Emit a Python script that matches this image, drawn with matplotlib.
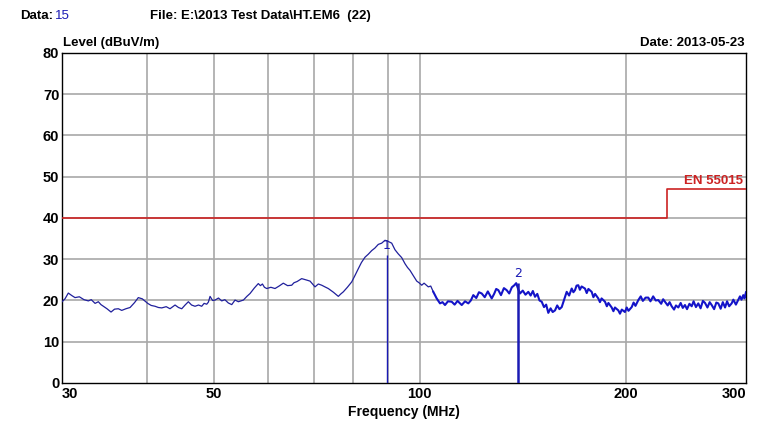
"""
EMI radiated emission scan, 30-300 MHz, with EN 55015 limit line and two markers.
"""
import matplotlib
matplotlib.use("Agg")
import matplotlib.pyplot as plt
from matplotlib.ticker import FixedLocator, NullLocator, NullFormatter

freq_mhz = [
    30.0, 30.3, 30.64, 31.0, 31.34, 31.8, 32.3, 32.78, 33.1, 33.53,
    33.9, 34.2, 34.48, 34.9, 35.38, 35.8, 36.26, 36.68, 37.2, 37.72,
    38.3, 38.78, 39.31, 39.7, 40.03, 40.5, 41.03, 41.5, 41.97, 42.6,
    43.15, 43.89, 44.4, 44.89, 45.4, 45.9, 46.4, 46.94, 47.5, 48.01,
    48.4, 48.83, 49.1, 49.38, 49.8, 50.21, 50.8, 51.36, 51.9, 52.51,
    53.12, 53.71, 54.32, 55.24, 55.9, 56.5, 57.3, 58.09, 58.5, 58.9,
    59.3, 59.76, 60.6, 61.45, 62.3, 63.19, 64.1, 65.0, 65.5, 66.2,
    67.22, 68.2, 69.14, 70.31, 71.1, 71.92, 72.7, 73.52, 74.8, 76.05,
    76.7, 77.34, 78.4, 79.55, 80.4, 81.34, 82.2, 83.2, 84.1, 85.1,
    86.0, 87.0, 88.0, 88.99, 90.0, 91.02, 92.03, 93.05, 94.13, 95.2,
    96.0, 96.81, 97.9, 99.02, 99.8, 100.7, 101.5, 102.96, 103.8, 104.7,
    105.9, 107.09, 108.0, 108.91, 110.0, 111.39, 112.5, 113.6, 115.22, 116.5,
    117.8, 118.8, 119.8, 121.0, 122.1, 123.24, 124.5, 125.8, 127.46, 128.5,
    129.4, 130.34, 131.5, 132.8, 134.05, 135.2, 136.4, 137.55, 138.4, 139.3,
    140.2, 141.5, 142.8, 144.17, 145.3, 146.4, 147.46, 148.6, 149.7, 150.82,
    152.0, 153.1, 154.21, 155.4, 156.5, 157.73, 158.9, 160.1, 161.33, 162.7,
    164.06, 165.4, 166.85, 167.8, 168.7, 169.6, 170.58, 171.5, 172.5, 174.47,
    175.5, 176.5, 178.45, 179.5, 180.5, 182.48, 183.5, 184.5, 186.65, 187.8,
    188.8, 190.9, 192.0, 193.0, 195.2, 196.3, 197.5, 199.6, 200.8, 202.0,
    204.2, 205.5, 206.8, 208.8, 210.5, 212.0, 214.0, 215.9, 217.5, 219.5,
    221.4, 223.3, 225.5, 227.0, 228.4, 230.5, 232.0, 233.6, 235.5, 237.0,
    238.9, 240.8, 242.5, 244.3, 246.0, 248.0, 249.9, 251.5, 253.5, 255.5,
    257.5, 259.5, 261.4, 263.5, 265.5, 267.3, 269.5, 271.5, 273.3, 275.5,
    277.5, 279.6, 281.5, 283.5, 285.9, 287.5, 290.0, 292.2, 294.0, 295.5,
    297.3, 298.5, 300.0,
]
level_dbuv = [
    19.7, 20.4, 21.8, 21.2, 20.7, 20.9, 20.2, 19.9, 20.2, 19.3,
    19.7, 19.0, 18.6, 18.0, 17.2, 17.9, 18.0, 17.6, 18.0, 18.3,
    19.5, 20.7, 20.4, 19.8, 19.3, 18.8, 18.6, 18.3, 18.2, 18.5,
    18.0, 18.9, 18.3, 18.0, 18.9, 19.7, 18.9, 18.6, 18.9, 18.6,
    19.3, 19.1, 19.6, 21.0, 20.0, 20.1, 20.6, 19.9, 20.2, 19.4,
    19.0, 20.1, 19.7, 20.1, 21.0, 21.7, 23.0, 24.1, 23.6, 24.0,
    23.2, 22.9, 23.2, 22.9, 23.5, 24.2, 23.6, 23.7, 24.3, 24.6,
    25.3, 25.0, 24.7, 23.3, 24.0, 23.7, 23.3, 22.9, 22.0, 21.0,
    21.6, 22.1, 23.2, 24.5, 26.0, 27.7, 29.2, 30.5, 31.2, 32.1,
    32.7, 33.6, 33.9, 34.6, 34.3, 33.9, 32.3, 31.3, 30.4, 28.9,
    28.0, 27.3, 26.0, 24.7, 24.3, 23.7, 24.2, 23.3, 23.5, 22.1,
    20.5, 19.3, 19.6, 18.9, 19.8, 19.7, 19.0, 19.9, 18.9, 19.8,
    19.3, 20.0, 21.3, 20.6, 22.0, 21.7, 20.8, 22.2, 20.5, 21.6,
    22.8, 22.5, 21.3, 23.0, 22.5, 21.7, 23.2, 23.7, 24.2, 22.8,
    21.7, 22.4, 21.4, 22.1, 21.2, 22.3, 20.9, 21.6, 20.0, 19.7,
    18.4, 19.0, 17.0, 18.1, 17.2, 17.6, 18.8, 17.9, 18.4, 20.3,
    22.1, 21.2, 22.9, 22.0, 22.5, 23.6, 23.7, 22.6, 23.4, 22.9,
    21.8, 22.8, 22.1, 20.8, 21.6, 20.5, 19.6, 20.5, 19.7, 18.6,
    19.4, 18.3, 17.4, 18.3, 17.6, 16.8, 17.8, 17.2, 18.3, 17.5,
    18.4, 19.5, 18.7, 20.1, 21.0, 19.9, 20.7, 20.7, 19.8, 21.0,
    20.0, 20.1, 19.2, 20.3, 19.7, 18.8, 19.6, 18.6, 17.8, 18.8,
    18.3, 19.4, 18.2, 18.9, 17.9, 19.2, 18.6, 19.8, 18.4, 19.3,
    18.1, 19.9, 19.4, 18.3, 19.6, 18.9, 17.9, 19.5, 19.3, 18.0,
    19.6, 18.3, 19.8, 18.6, 19.3, 20.2, 19.0, 20.1, 21.0, 20.2,
    21.3, 20.5, 22.0,
]

# EN 55015 limit (step at 230 MHz)
limit_freq = [30, 230, 230, 300]
limit_level = [40, 40, 47, 47]

# Markers
marker_freq = [89.5, 139.4]
marker_level = [31.0, 24.2]
marker_names = ["1", "2"]

x_ticks = [30, 50, 100, 200, 300]
x_grid = [40, 50, 60, 70, 80, 90, 100, 200]
y_ticks = [0, 10, 20, 30, 40, 50, 60, 70, 80]

BLUE = "#1a1ab4"
RED = "#cc2222"
GRID = "#a8a8a8"

plt.rcParams["font.family"] = ["Liberation Sans", "DejaVu Sans"]

fig = plt.figure(figsize=(7.64, 4.38), dpi=100)
ax = fig.add_axes([0.0812, 0.1256, 0.8952, 0.7534])

ax.set_xscale("log")
ax.set_xlim(30, 300)
ax.set_ylim(0, 80)

for g in x_grid:
    ax.axvline(g, color=GRID, linewidth=1.2, zorder=1)
for g in y_ticks[1:-1]:
    ax.axhline(g, color=GRID, linewidth=1.2, zorder=1)

ax.plot(limit_freq, limit_level, color=RED, linewidth=1.2, zorder=3)

# the scan gets noisier above ~100 MHz, drawn as a heavier trace there
split = next(i for i, f in enumerate(freq_mhz) if f >= 104)
ax.plot(freq_mhz[:split + 1], level_dbuv[:split + 1], color="#20209c",
        linewidth=0.9, zorder=4)
ax.plot(freq_mhz[split:], level_dbuv[split:], color="#1414c8",
        linewidth=1.5, zorder=4)

marker_lw = [1.0, 1.8]
for f, lv, name, lw in zip(marker_freq, marker_level, marker_names, marker_lw):
    ax.vlines(f, 0, lv, color=BLUE, linewidth=lw, zorder=5)
    ax.text(f, lv + 0.8, name, color=BLUE, fontsize=9, ha="center", va="bottom",
            family="DejaVu Sans", zorder=3)

ax.text(297, 47.6, "EN 55015", color=RED, fontsize=9.5, fontweight="bold",
        ha="right", va="bottom")

ax.xaxis.set_major_locator(FixedLocator(x_ticks))
ax.xaxis.set_minor_locator(NullLocator())
ax.xaxis.set_minor_formatter(NullFormatter())
ax.set_xticklabels([str(t) for t in x_ticks])
ax.set_yticks(y_ticks)
ax.tick_params(axis="both", length=0, labelsize=10.5)
ax.tick_params(axis="x", pad=3)
ax.tick_params(axis="y", pad=2)
for lab in ax.get_xticklabels() + ax.get_yticklabels():
    lab.set_fontweight("bold")
xl = ax.get_xticklabels()
xl[0].set_horizontalalignment("left")
xl[-1].set_horizontalalignment("right")

for sp in ax.spines.values():
    sp.set_linewidth(1.0)
    sp.set_color("black")

ax.set_xlabel("Frequency (MHz)", fontsize=10, fontweight="bold", labelpad=3)

# Header texts
fig.text(20 / 764, 1 - 16 / 438, "Data:", fontsize=9.5, fontweight="bold", va="center")
fig.text(55 / 764, 1 - 16 / 438, "15", fontsize=9.5, color=BLUE, va="center")
fig.text(150 / 764, 1 - 16 / 438, "File: E:\\2013 Test Data\\HT.EM6  (22)",
         fontsize=9.5, fontweight="bold", va="center")
fig.text(63 / 764, 1 - 43 / 438, "Level (dBuV/m)", fontsize=9.5, fontweight="bold",
         va="center")
fig.text(745 / 764, 1 - 43 / 438, "Date: 2013-05-23", fontsize=9.5, fontweight="bold",
         va="center", ha="right")

fig.savefig("out.png", dpi=100)
